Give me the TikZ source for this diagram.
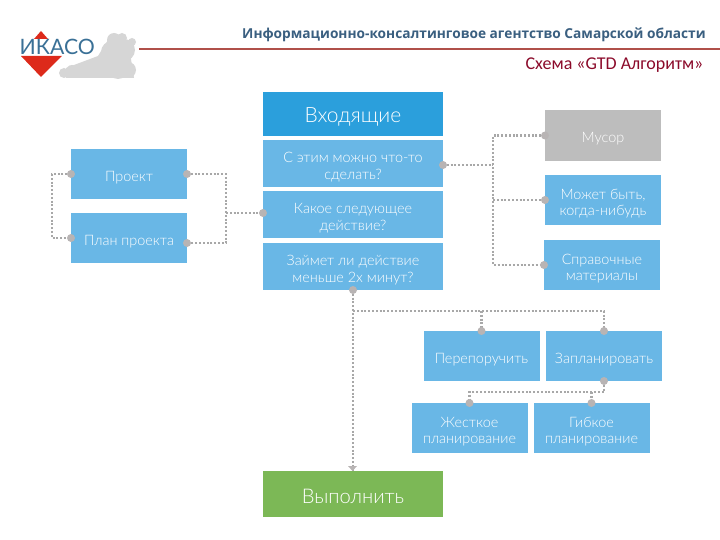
\documentclass[tikz,border=0pt]{standalone}
\usepackage{fontspec}
\setmainfont{Lato}
\newfontfamily\boxfont{Lato Light}
\newfontfamily\headfont{Open Sans}
\newfontfamily\subfont{Carlito}
\definecolor{cbox}{HTML}{69B7E6}
\definecolor{ctop}{HTML}{2B9FDC}
\definecolor{cgray}{HTML}{BDBDBD}
\definecolor{cgreen}{HTML}{7CB856}
\definecolor{cdot}{HTML}{A8A8A8}
\definecolor{cdisc}{HTML}{B8B4B4}
\definecolor{chead}{HTML}{3A5F80}
\definecolor{cline}{HTML}{B0504A}
\definecolor{csub}{HTML}{8B0A2A}
\definecolor{clogo}{HTML}{DD2A1B}
\definecolor{cltext}{HTML}{3A7096}
\definecolor{cmap}{HTML}{D6D6D6}
\newcommand\twolines[2]{\raisebox{-8pt}[0pt][0pt]{\begin{tabular}{@{}c@{}}#1\\#2\end{tabular}}}
\tikzset{
  bx/.style={fill=#1, inner sep=0pt, outer sep=0pt, text=white, align=center,
    font=\boxfont\fontsize{14.4}{16.5}\selectfont},
  bx/.default=cbox,
  small/.style={minimum width=116pt, minimum height=50pt},
  wide/.style={minimum width=180pt},
  one/.style={execute at begin node={\rule{0pt}{17pt}}},
  link/.style={draw=cdot, line width=2.4pt, dash pattern=on 2pt off 1.8pt},
  disc/.style={circle, fill=cdisc, inner sep=0pt, minimum size=8pt},
}
\begin{document}
\begin{tikzpicture}[x=1pt,y=-1pt]
\useasboundingbox (0,0) rectangle (720,540);
% header
\node[anchor=center, inner sep=0pt, text=chead] (head) at (474,34.5)
  {\headfont\bfseries\fontsize{13.7}{15}\selectfont Информационно-консалтинговое агентство Самарской области};
\coordinate (ruleA) at (139,49);
\coordinate (ruleB) at (720,49);
\draw[cline, line width=1.3pt] (ruleA) -- (ruleB);
\node[inner sep=0pt, text=csub] (sub) at (614.5,65.5)
  {\subfont\fontsize{18}{20}\selectfont Схема «GTD Алгоритм»};
% logo
\fill[cmap] (66,78) -- (66,68) -- (98,56) -- (108,40) -- (128,40) -- (134,78) -- cycle;
\foreach \cx/\cy/\r in {64/73/5, 72/71/6, 82/70/7, 93/68/8, 104/66/10, 118/68/11, 128/70/8, 112/52/11, 124/50/11, 114/40/7, 122/38/5, 132/42/4}
  \fill[cmap] (\cx,\cy) circle[radius=\r];
\fill[white] (20,57) -- (41,31) -- (62,57) -- (41,77) -- cycle;
\fill[clogo] (34,39) -- (41,31) -- (48,39) -- cycle;
\fill[clogo] (21,56) -- (62,56) -- (41,77) -- cycle;
\node[inner sep=0pt, anchor=west, text=cltext] (logo) at (19.5,47)
  {\fontsize{21.2}{22}\selectfont ИКАСО};
% boxes
\node[bx=ctop, wide, minimum height=44pt, font=\boxfont\fontsize{21}{22}\selectfont, execute at begin node={\rule{0pt}{21pt}}] (in) at (353,114) {Входящие};
\node[bx, wide, minimum height=47pt] (q1) at (353,163.5) {\twolines{С этим можно что-то}{сделать?}};
\node[bx, wide, minimum height=47pt] (q2) at (353,214.5) {\twolines{Какое следующее}{действие?}};
\node[bx, wide, minimum height=47pt] (q3) at (353,266.5) {\twolines{Займет ли действие}{меньше 2х минут?}};
\node[bx, small, one] (proj) at (129,174) {Проект};
\node[bx, small, one] (plan) at (129,238) {План проекта};
\node[bx=cgray, small, minimum height=51pt, one] (trash) at (603,135.5) {Мусор};
\node[bx, small] (some) at (603,200) {\twolines{Может быть,}{когда-нибудь}};
\node[bx, small] (ref) at (602,265) {\twolines{Справочные}{материалы}};
\node[bx, small, one] (dele) at (481.5,356) {Перепоручить};
\node[bx, small, one] (sched) at (604,356) {Запланировать};
\node[bx, small] (hard) at (469.5,428) {\twolines{Жесткое}{планирование}};
\node[bx, small] (soft) at (591.5,428) {\twolines{Гибкое}{планирование}};
\node[bx=cgreen, wide, minimum height=46pt, font=\boxfont\fontsize{20.2}{22}\selectfont, execute at begin node={\rule{0pt}{20pt}}] (done) at (353,494) {Выполнить};
% connectors
\coordinate (pl) at (52,174);
\coordinate (pm) at (52,238);
\coordinate (pa) at (226,174);
\coordinate (pb) at (226,243);
\coordinate (pc) at (226,213);
\coordinate (pe) at (187,243);
\coordinate (q2w) at (263,213);
\draw[link] (proj.west) -- (pl) -- (pm) -- (plan.west);
\draw[link] (proj.east) -- (pa) -- (pb) -- (pe);
\draw[link] (pc) -- (q2w);
\coordinate (q1e) at (443,165);
\coordinate (ra) at (493,165);
\coordinate (rt) at (493,135.5);
\coordinate (rs) at (493,200);
\coordinate (rr) at (493,265);
\draw[link] (q1e) -- (ra);
\draw[link] (trash.west) -- (rt) -- (rr) -- (ref.west);
\draw[link] (rs) -- (some.west);
\coordinate (da) at (353,311);
\coordinate (db) at (481.5,311);
\coordinate (dc) at (604,311);
\draw[link] (q3.south) -- (done.north);
\draw[link] (da) -- (dc) -- (sched.north);
\draw[link] (db) -- (dele.north);
\coordinate (ea) at (604,392);
\coordinate (eb) at (469.5,392);
\coordinate (ec) at (591.5,392);
\draw[link] (sched.south) -- (ea) -- (eb) -- (hard.north);
\draw[link] (ec) -- (soft.north);
% end marks
\foreach \p in {proj.west,plan.west,proj.east,pe,q2w,q1e,q3.south,sched.south,trash.west,some.west,ref.west,dele.north,sched.north,hard.north,soft.north}
  \node[disc] at (\p) {};
\fill[cdisc] (348,466) -- (357,466) -- (352.5,471) -- cycle;
\end{tikzpicture}
\end{document}
